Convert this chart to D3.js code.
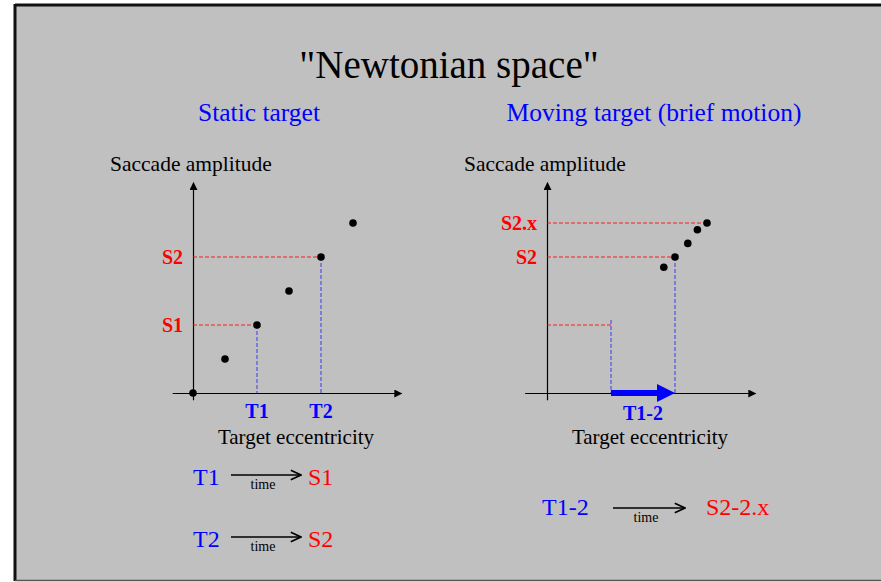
<!DOCTYPE html>
<html>
<head>
<meta charset="utf-8">
<script src="https://cdn.jsdelivr.net/npm/d3@7"></script>
<style>
  html, body { margin: 0; padding: 0; background: #ffffff; }
  svg { display: block; }
  text { font-family: "Liberation Serif", "Times New Roman", serif; }
</style>
</head>
<body>
<svg id="chart" width="881" height="582"></svg>
<script>
// Static target: one saccade per target eccentricity step
const staticEcc = [0, 1, 2, 3, 4, 5];
const staticAmp = [0, 1, 2, 3, 4, 5];

// Moving target (brief motion): saccades land between S2 and S2.x
const movingEcc = [3.65, 4, 4.4, 4.7, 5];
const movingAmp = [3.7, 4, 4.4, 4.8, 5];

// Reference markers on each panel
const staticRefs = [
  { t: 2, s: 2, tLabel: "T1", sLabel: "S1" },
  { t: 4, s: 4, tLabel: "T2", sLabel: "S2" }
];
const movingRefs = [
  { t: 2, s: 2, sLabel: null },
  { t: 4, s: 4, sLabel: "S2" }
];
const movingTop = { t: 5, s: 5, sLabel: "S2.x" };
const motionSpan = [2, 4];

const RED = "#ff0000", BLUE = "#0000ff";
const svg = d3.select("#chart");

// slide frame
svg.append("rect").attr("x", 15).attr("y", 5).attr("width", 880).attr("height", 575).attr("fill", "#c0c0c0");
svg.append("line").attr("x1", 15).attr("x2", 881).attr("y1", 5).attr("y2", 5).attr("stroke", "#111").attr("stroke-width", 3);
svg.append("line").attr("x1", 15).attr("x2", 15).attr("y1", 4).attr("y2", 581).attr("stroke", "#111").attr("stroke-width", 3);
svg.append("line").attr("x1", 15).attr("x2", 881).attr("y1", 580.5).attr("y2", 580.5).attr("stroke", "#555").attr("stroke-width", 1.5);

// title & panel headings
svg.append("text").attr("x", 449).attr("y", 78).attr("text-anchor", "middle")
  .attr("font-size", 39).attr("fill", "#000").text("\"Newtonian space\"");
svg.append("text").attr("x", 259).attr("y", 121).attr("text-anchor", "middle")
  .attr("font-size", 25.5).attr("fill", BLUE).text("Static target");
svg.append("text").attr("x", 654).attr("y", 121).attr("text-anchor", "middle")
  .attr("font-size", 25.5).attr("fill", BLUE).text("Moving target (brief motion)");

const defs = svg.append("defs");
defs.append("marker").attr("id", "axisHead").attr("viewBox", "0 0 10 10")
  .attr("refX", 9).attr("refY", 5).attr("markerWidth", 9).attr("markerHeight", 8)
  .attr("markerUnits", "userSpaceOnUse").attr("orient", "auto")
  .append("path").attr("d", "M0,0L10,5L0,10Z").attr("fill", "#000");
defs.append("marker").attr("id", "openHead").attr("viewBox", "0 0 10 10")
  .attr("refX", 9.5).attr("refY", 5).attr("markerWidth", 12).attr("markerHeight", 12)
  .attr("markerUnits", "userSpaceOnUse").attr("orient", "auto")
  .append("path").attr("d", "M1,1L9.5,5L1,9").attr("fill", "none").attr("stroke", "#000").attr("stroke-width", 1.4);

function panel(originX, xLo, xHi) {
  const x = d3.scaleLinear().domain([0, 5]).range([originX, originX + 160]);
  const y = d3.scaleLinear().domain([0, 5]).range([393, 223]);
  const g = svg.append("g");

  // axes: bare domain lines with arrowheads, no ticks
  const xa = d3.scaleLinear().domain([xLo, xHi]).range([x(xLo), x(xHi)]);
  const ya = d3.scaleLinear().domain([-0.2, 6.2]).range([y(-0.2), y(6.2)]);
  const gx = g.append("g").attr("transform", `translate(0,${y(0)})`)
    .call(d3.axisBottom(xa).tickValues([]).tickSizeOuter(0));
  const gy = g.append("g").attr("transform", `translate(${x(0)},0)`)
    .call(d3.axisLeft(ya).tickValues([]).tickSizeOuter(0));
  [gx, gy].forEach(a => a.select(".domain").attr("stroke", "#000").attr("stroke-width", 1.2)
    .attr("marker-end", "url(#axisHead)"));

  g.append("text").attr("x", originX - 83).attr("y", 171).attr("font-size", 21.5).attr("fill", "#000")
    .text("Saccade amplitude");
  g.append("text").attr("x", originX + 103).attr("y", 444).attr("text-anchor", "middle")
    .attr("font-size", 21).attr("fill", "#000").text("Target eccentricity");
  return { g, x, y };
}

function hDash(p, s, t) {
  p.g.append("line").attr("x1", p.x(0)).attr("x2", p.x(t)).attr("y1", p.y(s)).attr("y2", p.y(s))
    .attr("stroke", RED).attr("stroke-opacity", 0.85).attr("stroke-width", 1).attr("stroke-dasharray", "4,2");
}
function vDash(p, t, s) {
  p.g.append("line").attr("x1", p.x(t)).attr("x2", p.x(t)).attr("y1", p.y(s)).attr("y2", p.y(0))
    .attr("stroke", BLUE).attr("stroke-opacity", 0.7).attr("stroke-width", 1).attr("stroke-dasharray", "4,2");
}
function sLabel(p, s, text) {
  p.g.append("text").attr("x", p.x(0) - 10).attr("y", p.y(s) + 7).attr("text-anchor", "end")
    .attr("font-size", 20).attr("font-weight", "bold").attr("fill", RED).text(text);
}

// ---- left panel: static target
const L = panel(193, -0.65, 6.5);
staticRefs.forEach(r => {
  hDash(L, r.s, r.t);
  vDash(L, r.t, r.s);
  sLabel(L, r.s, r.sLabel);
  L.g.append("text").attr("x", L.x(r.t)).attr("y", 418).attr("text-anchor", "middle")
    .attr("font-size", 20).attr("font-weight", "bold").attr("fill", BLUE).text(r.tLabel);
});
L.g.selectAll("circle").data(staticEcc).join("circle")
  .attr("cx", d => L.x(d)).attr("cy", (d, i) => L.y(staticAmp[i])).attr("r", 3.8).attr("fill", "#000");

// ---- right panel: moving target
const R = panel(547, -0.7, 6.5);
movingRefs.forEach(r => {
  hDash(R, r.s, r.t);
  vDash(R, r.t, r.s + (r.sLabel ? 0 : 0.15));
  if (r.sLabel) sLabel(R, r.s, r.sLabel);
});
hDash(R, movingTop.s, movingTop.t);
sLabel(R, movingTop.s, movingTop.sLabel);

// thick blue arrow for the brief target motion
{
  const x0 = R.x(motionSpan[0]), x1 = R.x(motionSpan[1]), yy = R.y(0);
  R.g.append("path")
    .attr("d", `M${x0},${yy - 3}L${x1 - 18},${yy - 3}L${x1 - 18},${yy - 9}L${x1},${yy}L${x1 - 18},${yy + 9}L${x1 - 18},${yy + 3}L${x0},${yy + 3}Z`)
    .attr("fill", BLUE);
  R.g.append("text").attr("x", (x0 + x1) / 2).attr("y", 420).attr("text-anchor", "middle")
    .attr("font-size", 20).attr("font-weight", "bold").attr("fill", BLUE).text("T1-2");
}
R.g.selectAll("circle").data(movingEcc).join("circle")
  .attr("cx", d => R.x(d)).attr("cy", (d, i) => R.y(movingAmp[i])).attr("r", 3.8).attr("fill", "#000");

// ---- target → saccade relations over time
const relations = [
  { from: "T1", to: "S1", x: 193, base: 485, a0: 231, a1: 301, ay: 475, tx: 263, toX: 308 },
  { from: "T2", to: "S2", x: 193, base: 547, a0: 231, a1: 301, ay: 537, tx: 263, toX: 308 },
  { from: "T1-2", to: "S2-2.x", x: 542, base: 515, a0: 613, a1: 685, ay: 508, tx: 646, toX: 706 }
];
relations.forEach(r => {
  svg.append("text").attr("x", r.x).attr("y", r.base).attr("font-size", 24).attr("fill", BLUE).text(r.from);
  svg.append("line").attr("x1", r.a0).attr("x2", r.a1).attr("y1", r.ay).attr("y2", r.ay)
    .attr("stroke", "#000").attr("stroke-width", 1.4).attr("marker-end", "url(#openHead)");
  svg.append("text").attr("x", r.tx).attr("y", r.ay + 14).attr("text-anchor", "middle")
    .attr("font-size", 14).attr("fill", "#000").text("time");
  svg.append("text").attr("x", r.toX).attr("y", r.base).attr("font-size", 24).attr("fill", RED).text(r.to);
});
</script>
</body>
</html>
